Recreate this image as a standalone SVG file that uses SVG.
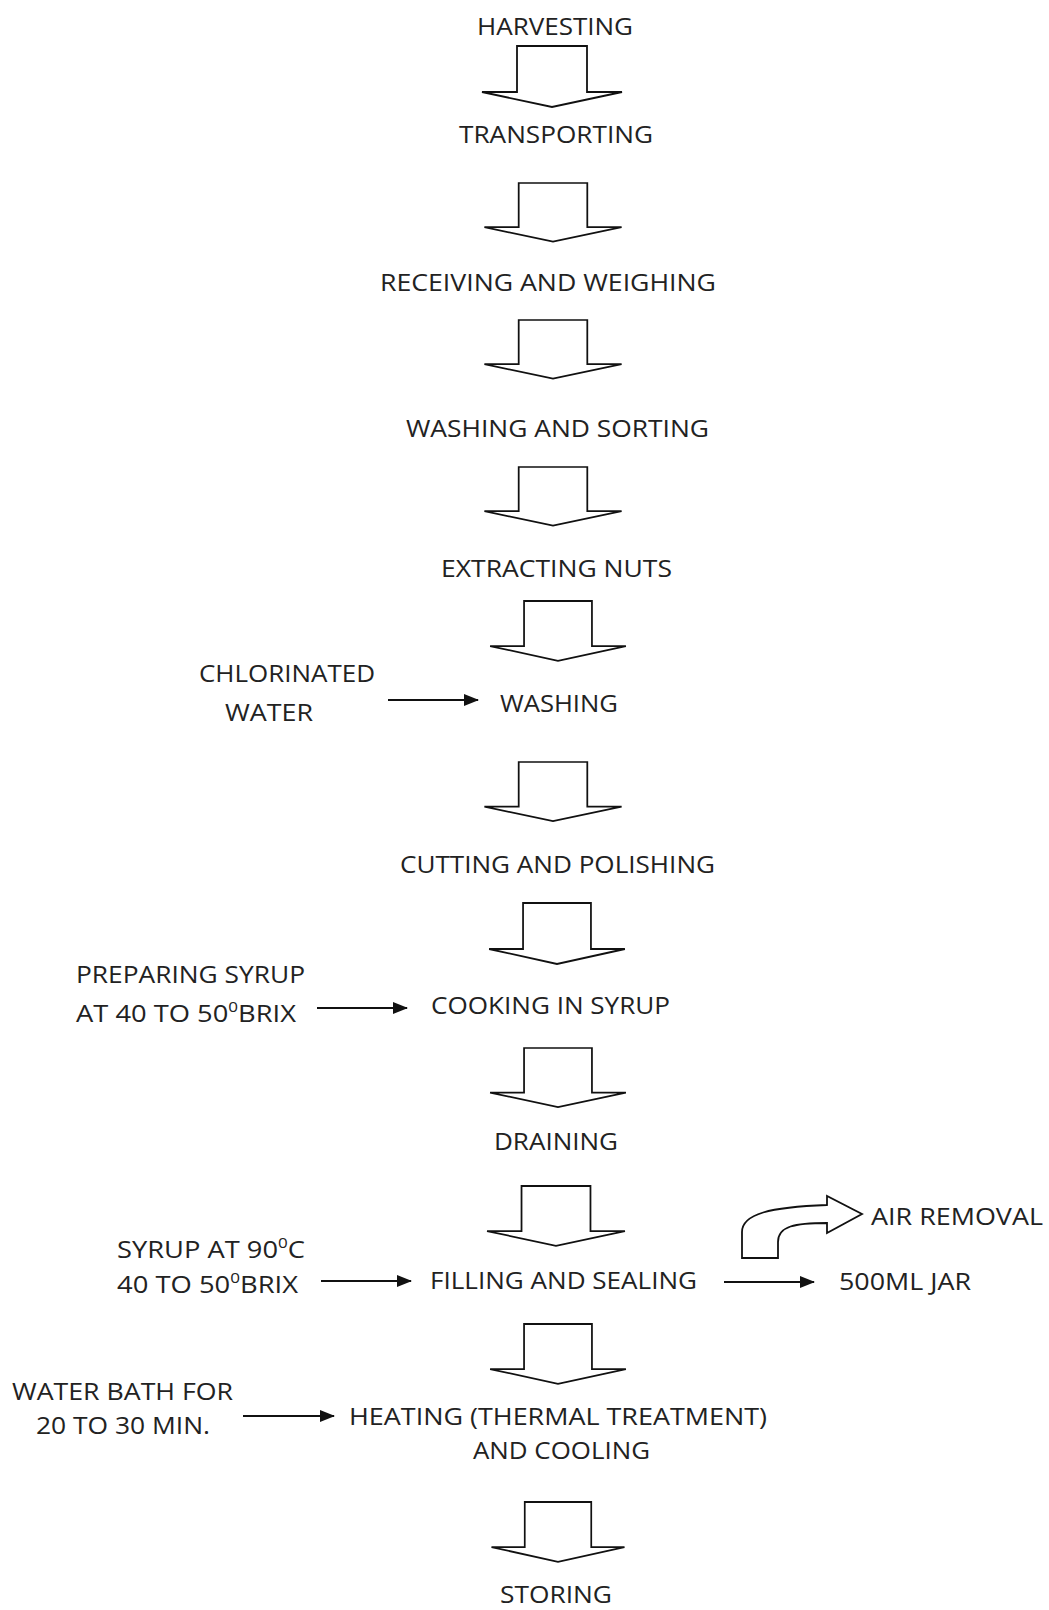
<svg xmlns="http://www.w3.org/2000/svg" width="1049" height="1610" viewBox="0 0 1049 1610">
<style>
text{font-family:"Open Sans","Noto Sans","DejaVu Sans",sans-serif;font-size:24px;fill:#222;}
.blk{fill:#fff;stroke:#111;stroke-width:1.8;stroke-linejoin:miter;}
.ln{stroke:#111;stroke-width:1.8;fill:none;}
.sup{font-size:15px;}
</style>
<defs>
<marker id="ah" markerWidth="15" markerHeight="12" refX="14" refY="6" orient="auto" markerUnits="userSpaceOnUse">
<path d="M0,0 L15,6 L0,12 Z" fill="#111"/>
</marker>
<path id="blockArrow" d="M-35,0 L35,0 L35,46 L70,46 L0,61 L-70,46 L-35,46 Z"/>
</defs>
<rect width="1049" height="1610" fill="#fff"/>

<g id="connectors">
<use href="#blockArrow" class="blk" transform="translate(552,46)"/>
<use href="#blockArrow" class="blk" transform="translate(553,183) scale(0.98,0.96)"/>
<use href="#blockArrow" class="blk" transform="translate(553,320) scale(0.98,0.96)"/>
<use href="#blockArrow" class="blk" transform="translate(553,467) scale(0.98,0.96)"/>
<use href="#blockArrow" class="blk" transform="translate(558,601) scale(0.97,0.98)"/>
<use href="#blockArrow" class="blk" transform="translate(553,762) scale(0.98,0.97)"/>
<use href="#blockArrow" class="blk" transform="translate(557,903) scale(0.97,1.0)"/>
<use href="#blockArrow" class="blk" transform="translate(558,1048) scale(0.97,0.97)"/>
<use href="#blockArrow" class="blk" transform="translate(556,1186) scale(0.985,0.98)"/>
<use href="#blockArrow" class="blk" transform="translate(558,1324) scale(0.97,0.98)"/>
<use href="#blockArrow" class="blk" transform="translate(558,1502) scale(0.95,0.98)"/>
<line class="ln" x1="388" y1="700" x2="478" y2="700" marker-end="url(#ah)"/>
<line class="ln" x1="317" y1="1008" x2="407" y2="1008" marker-end="url(#ah)"/>
<line class="ln" x1="321" y1="1281" x2="411" y2="1281" marker-end="url(#ah)"/>
<line class="ln" x1="724" y1="1282" x2="814" y2="1282" marker-end="url(#ah)"/>
<line class="ln" x1="243" y1="1416" x2="334" y2="1416" marker-end="url(#ah)"/>
<path class="blk" d="M742,1258 L742,1232 C742,1214 770,1207 827,1205 L827,1196 L862,1214 L827,1233 L827,1223 C795,1223 778,1226 778,1242 L778,1258 Z"/>
</g>

<g id="harvesting"><text x="477" y="35" textLength="156" lengthAdjust="spacingAndGlyphs">HARVESTING</text></g>
<g id="transporting"><text x="459" y="143" textLength="194" lengthAdjust="spacingAndGlyphs">TRANSPORTING</text></g>
<g id="receiving"><text x="380" y="291" textLength="336" lengthAdjust="spacingAndGlyphs">RECEIVING AND WEIGHING</text></g>
<g id="washing-sorting"><text x="406" y="437" textLength="303" lengthAdjust="spacingAndGlyphs">WASHING AND SORTING</text></g>
<g id="extracting"><text x="441" y="577" textLength="231" lengthAdjust="spacingAndGlyphs">EXTRACTING NUTS</text></g>
<g id="chlorinated"><text x="199" y="682" textLength="176" lengthAdjust="spacingAndGlyphs">CHLORINATED</text><text x="225" y="721" textLength="88" lengthAdjust="spacingAndGlyphs">WATER</text></g>
<g id="washing"><text x="500" y="712" textLength="118" lengthAdjust="spacingAndGlyphs">WASHING</text></g>
<g id="cutting"><text x="400" y="873" textLength="315" lengthAdjust="spacingAndGlyphs">CUTTING AND POLISHING</text></g>
<g id="preparing-syrup"><text x="76" y="983" textLength="229" lengthAdjust="spacingAndGlyphs">PREPARING SYRUP</text><text x="76" y="1022" textLength="220" lengthAdjust="spacingAndGlyphs">AT 40 TO 50<tspan class="sup" dy="-10">0</tspan><tspan dy="10">BRIX</tspan></text></g>
<g id="cooking"><text x="431" y="1014" textLength="239" lengthAdjust="spacingAndGlyphs">COOKING IN SYRUP</text></g>
<g id="draining"><text x="494" y="1150" textLength="124" lengthAdjust="spacingAndGlyphs">DRAINING</text></g>
<g id="syrup90"><text x="117" y="1258" textLength="188" lengthAdjust="spacingAndGlyphs">SYRUP AT 90<tspan class="sup" dy="-10">0</tspan><tspan dy="10">C</tspan></text><text x="117" y="1293" textLength="181" lengthAdjust="spacingAndGlyphs">40 TO 50<tspan class="sup" dy="-10">0</tspan><tspan dy="10">BRIX</tspan></text></g>
<g id="filling"><text x="430" y="1289" textLength="267" lengthAdjust="spacingAndGlyphs">FILLING AND SEALING</text></g>
<g id="jar"><text x="839" y="1290" textLength="132" lengthAdjust="spacingAndGlyphs">500ML JAR</text></g>
<g id="air-removal"><text x="871" y="1225" textLength="172" lengthAdjust="spacingAndGlyphs">AIR REMOVAL</text></g>
<g id="water-bath"><text x="12" y="1400" textLength="221" lengthAdjust="spacingAndGlyphs">WATER BATH FOR</text><text x="36" y="1434" textLength="174" lengthAdjust="spacingAndGlyphs">20 TO 30 MIN.</text></g>
<g id="heating"><text x="349" y="1425" textLength="418" lengthAdjust="spacingAndGlyphs">HEATING (THERMAL TREATMENT)</text><text x="473" y="1459" textLength="177" lengthAdjust="spacingAndGlyphs">AND COOLING</text></g>
<g id="storing"><text x="500" y="1603" textLength="112" lengthAdjust="spacingAndGlyphs">STORING</text></g>
</svg>
